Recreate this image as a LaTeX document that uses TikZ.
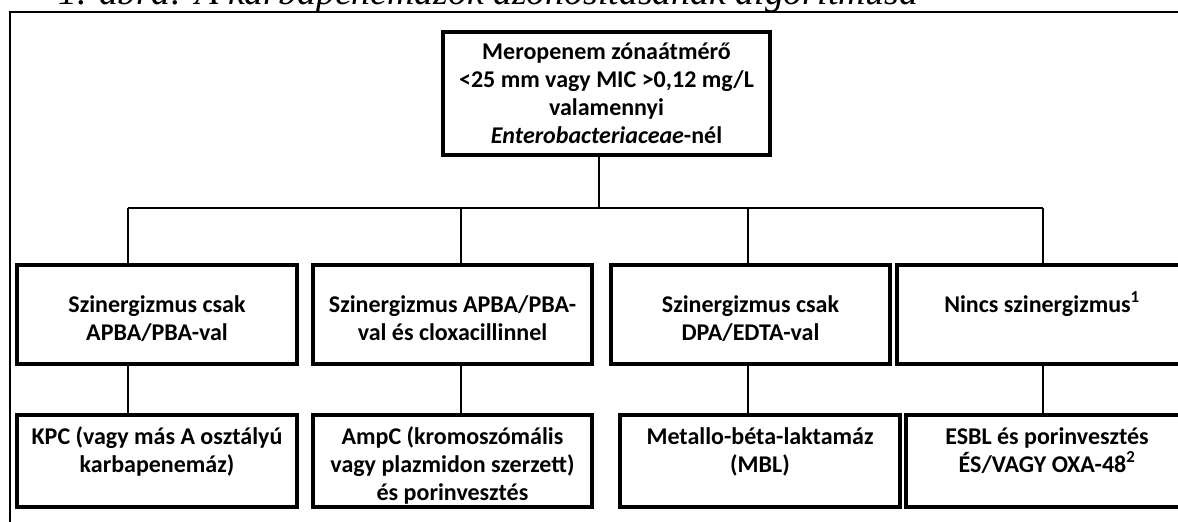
\documentclass[tikz,border=0pt]{standalone}
\usepackage{fontspec}
\setmainfont{Carlito}
\newfontfamily\titlefont{Liberation Serif}
\newcommand\bxfont{\fontsize{24}{28}\selectfont\bfseries}
\begin{document}
\begin{tikzpicture}[x=1pt,y=-1pt,
  bx/.style={draw, line width=4pt, inner sep=0pt, anchor=north west, font=\bxfont},
  conn/.style={line width=2.5pt},
  frame/.style={line width=2pt}]
\useasboundingbox (0,0) rectangle (1178,522);
\clip (0,0) rectangle (1178,522);
\fill[white] (0,0) rectangle (1178,522);
% title (cut off at the top)
\node[anchor=base west, inner sep=0pt] (title) at (58,5)
  {\resizebox{860pt}{!}{\titlefont\itshape 1. ábra: A karbapenemázok azonosításának algoritmusa}};
% outer frame
\draw[frame] (10,540) -- (10,12) -- (1200,12);
% top box
\node[bx] (top) at (441,30)
 {\parbox[c][123pt][c]{327pt}{\bxfont\centering Meropenem zónaátmérő\\ {\textless}25 mm vagy MIC {\textgreater}0,12 mg/L\\ valamennyi\\ \textit{Enterobacteriaceae}-nél}};
% row 1
\node[bx] (a1) at (15,263) {\parbox[c][99pt][t]{280pt}{\bxfont\centering\rule{0pt}{47pt}Szinergizmus csak\\APBA/PBA-val}};
\node[bx] (b1) at (311,263) {\parbox[c][99pt][t]{279pt}{\bxfont\centering\rule{0pt}{47pt}Szinergizmus APBA/PBA-\\val és cloxacillinnel}};
\node[bx] (c1) at (609,263) {\parbox[c][99pt][t]{279pt}{\bxfont\centering\rule{0pt}{47pt}Szinergizmus csak\\DPA/EDTA-val}};
\node[bx] (d1) at (895,263) {\parbox[c][99pt][t]{290pt}{\bxfont\centering\rule{0pt}{47pt}Nincs szinergizmus\textsuperscript{1}}};
% row 2
\node[bx] (a2) at (15,413) {\parbox[c][92pt][t]{280pt}{\bxfont\centering\rule{0pt}{29pt}KPC (vagy más A osztályú\\karbapenemáz)}};
\node[bx] (b2) at (311,413) {\parbox[c][92pt][t]{279pt}{\bxfont\centering\rule{0pt}{29pt}AmpC (kromoszómális\\vagy plazmidon szerzett)\\és porinvesztés}};
\node[bx] (c2) at (618,413) {\parbox[c][92pt][t]{280pt}{\bxfont\centering\rule{0pt}{29pt}Metallo-béta-laktamáz\\(MBL)}};
\node[bx] (d2) at (904,413) {\parbox[c][92pt][t]{282pt}{\bxfont\centering\rule{0pt}{29pt}ESBL és porinvesztés\\ÉS/VAGY OXA-48\textsuperscript{2}}};
% connectors
\coordinate (j) at (599,208);
\coordinate (ja) at (128,208);
\coordinate (jb) at (461,208);
\coordinate (jc) at (748,208);
\coordinate (jd) at (1043,208);
\draw[conn] (top.south -| j) -- (j);
\draw[conn] (ja) -- (jd);
\draw[conn] (ja) -- (ja |- a1.north);
\draw[conn] (jb) -- (jb |- b1.north);
\draw[conn] (jc) -- (jc |- c1.north);
\draw[conn] (jd) -- (jd |- d1.north);
\draw[conn] (a1.south -| ja) -- (a2.north -| ja);
\draw[conn] (b1.south -| jb) -- (b2.north -| jb);
\draw[conn] (c1.south -| jc) -- (c2.north -| jc);
\draw[conn] (d1.south -| jd) -- (d2.north -| jd);
\end{tikzpicture}
\end{document}
